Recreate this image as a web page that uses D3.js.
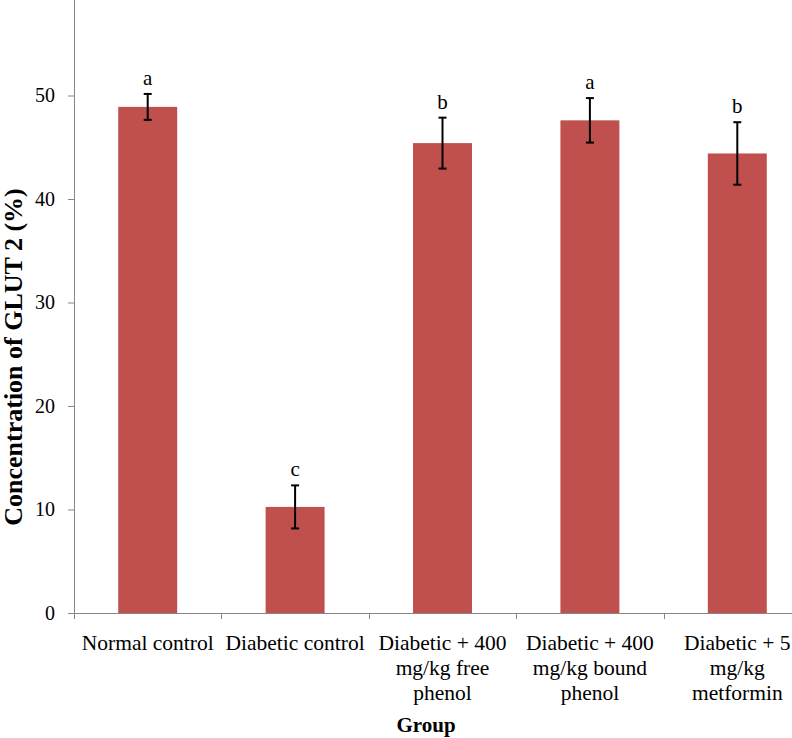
<!DOCTYPE html>
<html>
<head>
<meta charset="utf-8">
<script src="https://cdn.jsdelivr.net/npm/d3@7"></script>
<style>
html,body{margin:0;padding:0;background:#fff;}
svg{display:block;}
text{font-family:"Liberation Serif","Times New Roman",serif;fill:#000;}
</style>
</head>
<body>
<svg id="chart" width="792" height="738"></svg>
<script>
// ---- data ----
const categoryLines = [
  ["Normal control"],
  ["Diabetic control"],
  ["Diabetic + 400", "mg/kg free", "phenol"],
  ["Diabetic + 400", "mg/kg bound", "phenol"],
  ["Diabetic + 5", "mg/kg", "metformin"]
];
const categories = categoryLines.map(l => l.join(" "));
const values = [48.9, 10.25, 45.4, 47.6, 44.4];
const errors = [1.25, 2.08, 2.46, 2.15, 3.02];
const letters = ["a", "c", "b", "a", "b"];
const yTicks = [0, 10, 20, 30, 40, 50];
const yTitle = "Concentration of GLUT 2 (%)";
const xTitle = "Group";

// ---- layout ----
const svg = d3.select("#chart");
const x0 = 74, y0 = 613, step = 147.4;
const x = d3.scaleBand().domain(categories)
  .range([x0, x0 + step * categories.length])
  .paddingInner(0.6).paddingOuter(0.3);
const y = d3.scaleLinear().domain([0, 60]).range([y0, y0 - 6 * 103.5]);
const axisColor = "#868686";
const barColor = "#C0504D";

// bars
svg.append("g").selectAll("rect").data(categories).join("rect")
  .attr("x", d => x(d))
  .attr("width", x.bandwidth())
  .attr("y", (d, i) => y(values[i]))
  .attr("height", (d, i) => y(0) - y(values[i]))
  .attr("fill", barColor);

// error bars
const eb = svg.append("g").attr("stroke", "#000").attr("stroke-width", 2);
categories.forEach((c, i) => {
  const cx = x(c) + x.bandwidth() / 2;
  const top = y(values[i] + errors[i]);
  const bot = y(values[i] - errors[i]);
  eb.append("line").attr("x1", cx).attr("x2", cx).attr("y1", top).attr("y2", bot);
  eb.append("line").attr("x1", cx - 4).attr("x2", cx + 4).attr("y1", top).attr("y2", top);
  eb.append("line").attr("x1", cx - 4).attr("x2", cx + 4).attr("y1", bot).attr("y2", bot);
  svg.append("text").attr("x", cx).attr("y", top - 9)
    .attr("text-anchor", "middle").attr("font-size", 21).text(letters[i]);
});

// y axis
const yAxis = d3.axisLeft(y).tickValues(yTicks).tickSize(6).tickPadding(13).tickFormat(d3.format("d"));
const gy = svg.append("g").attr("transform", `translate(${x0},0)`).call(yAxis);
gy.select(".domain").remove();
gy.selectAll(".tick line").attr("stroke", axisColor);
gy.selectAll(".tick text").attr("font-size", 20).attr("font-family", "Liberation Serif").attr("fill", "#000");
svg.append("line").attr("x1", x0 + 0.5).attr("x2", x0 + 0.5).attr("y1", 0).attr("y2", y0)
  .attr("stroke", axisColor);

// x axis
svg.append("line").attr("x1", x0).attr("x2", 792).attr("y1", y0 + 0.5).attr("y2", y0 + 0.5)
  .attr("stroke", axisColor);
const gap = (x.step() - x.bandwidth()) / 2;
const bounds = categories.map(c => x(c) - gap);
bounds.push(x(categories[categories.length - 1]) + x.bandwidth() + gap);
svg.append("g").selectAll("line").data(bounds).join("line")
  .attr("x1", d => Math.round(d) + 0.5).attr("x2", d => Math.round(d) + 0.5)
  .attr("y1", y0).attr("y2", y0 + 6).attr("stroke", axisColor);

// x labels
categoryLines.forEach((lines, i) => {
  const cx = x(categories[i]) + x.bandwidth() / 2;
  const t = svg.append("text").attr("text-anchor", "middle").attr("font-size", 21.5);
  lines.forEach((ln, j) => {
    t.append("tspan").attr("x", cx).attr("y", 650 + j * 25).text(ln);
  });
});

// titles
svg.append("text").attr("x", 426).attr("y", 732).attr("text-anchor", "middle")
  .attr("font-size", 21).attr("font-weight", "bold").text(xTitle);
svg.append("text").attr("transform", "translate(22,357) rotate(-90)")
  .attr("text-anchor", "middle").attr("font-size", 26).attr("font-weight", "bold").text(yTitle);
</script>
</body>
</html>
